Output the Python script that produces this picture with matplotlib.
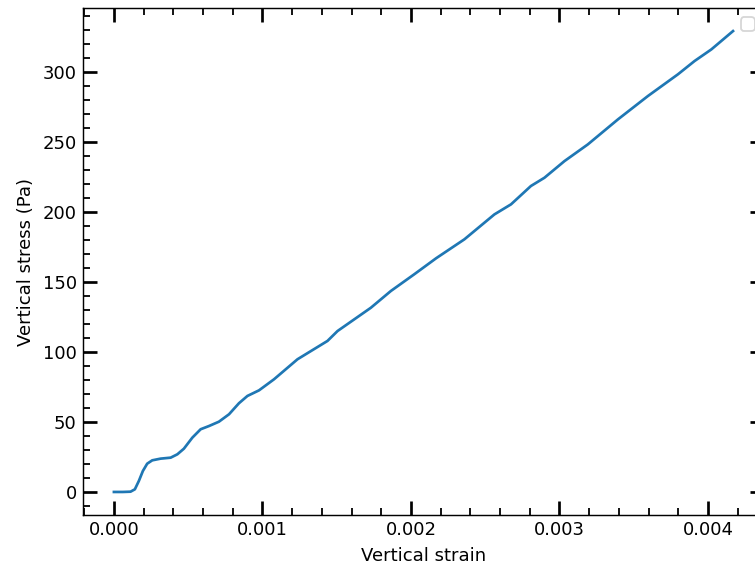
import numpy as np
import matplotlib
matplotlib.use('Agg')
import matplotlib.pyplot as plt
from matplotlib.ticker import AutoMinorLocator

# strain / stress readings from the compression test
strain = [0.0, 0.00006, 0.000112, 0.000141, 0.000168, 0.000195, 0.000224, 0.000258,
          0.000314, 0.000382, 0.000427, 0.000471, 0.000528, 0.000584, 0.00064,
          0.000707, 0.000775, 0.000842, 0.000899, 0.000977, 0.001078, 0.001236,
          0.001438, 0.001506, 0.00173, 0.001865, 0.002022, 0.00217, 0.00236,
          0.002562, 0.002674, 0.002808, 0.002899, 0.003034, 0.003191, 0.003394,
          0.003596, 0.003798, 0.00391, 0.004023, 0.004169]
stress = [0.0, 0.0, 0.2, 1.9, 7.9, 15.0, 20.2, 22.6,
          23.8, 24.5, 26.9, 30.9, 38.8, 44.8, 47.1,
          50.2, 55.5, 63.4, 68.6, 72.6, 80.5, 94.8,
          107.9, 115.0, 131.6, 143.6, 155.5, 167.0, 180.5,
          198.3, 205.5, 218.6, 224.5, 236.4, 248.3, 266.2,
          282.9, 298.4, 307.9, 316.2, 329.3]

fig = plt.figure(figsize=(755/130, 569/130), dpi=130)
ax = fig.add_axes([0.1099, 0.0949, 0.902, 0.891])

ax.plot(strain, stress, color='tab:blue', lw=1.5)

ax.xaxis.set_minor_locator(AutoMinorLocator(5))
ax.yaxis.set_minor_locator(AutoMinorLocator(5))
ax.tick_params(which='both', direction='in', top=True, right=True)
ax.tick_params(which='major', length=8, width=1.5)
ax.tick_params(which='minor', length=4, width=1)
ax.set_xticks([0.0, 0.001, 0.002, 0.003, 0.004])
ax.set_xticklabels(['0.000', '0.001', '0.002', '0.003', '0.004'])

ax.set_xlabel('Vertical strain')
ax.set_ylabel('Vertical stress (Pa)')
ax.legend(loc='upper right')

fig.savefig('out.png', dpi=130)
